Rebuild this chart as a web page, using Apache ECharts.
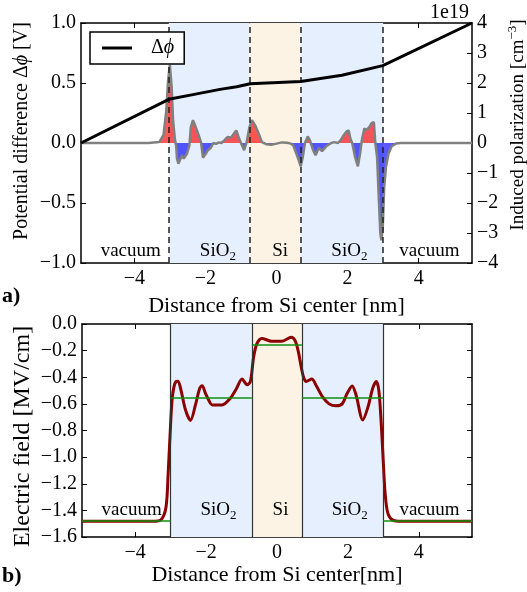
<!DOCTYPE html>
<html><head><meta charset="utf-8">
<script src="https://cdn.jsdelivr.net/npm/echarts@6/dist/echarts.min.js"></script>
<style>html,body{margin:0;padding:0;background:#fff}#c{width:527px;height:592px}</style>
</head><body><div id="c"></div>
<script>
// ---------------- data ----------------
const xTicks = [-4, -2, 0, 2, 4];

const topBounds = [-3.03, -0.76, 0.67, 3.0];
const botBounds = [-3.0, -0.71, 0.7, 3.0];
const regionNames = ['vacuum', 'SiO2', 'Si', 'SiO2', 'vacuum'];
const regionLabelX = [-4.1, -1.65, 0.1, 2.05, 4.3];
const regionLabelYTop = -0.9;
const regionLabelYBot = -1.40;

// potential difference (V)
const phiX = [-5.5, -3.03, -2.35, -1.59, -1.12, -0.74, 0.68, 1.84, 2.99, 5.5];
const phiV = [0, 0.364, 0.403, 0.447, 0.469, 0.494, 0.512, 0.564, 0.645, 1.0];

// induced polarization (1e19 cm^-3)
const polX = [-5.5, -3.6, -3.3, -3.18, -3.10, -3.05, -3.00, -2.95, -2.91, -2.86, -2.82, -2.80, -2.76, -2.71, -2.66, -2.61, -2.57, -2.52, -2.45, -2.41, -2.35, -2.29, -2.19, -2.12, -2.07, -1.99, -1.93, -1.85, -1.78, -1.70, -1.62, -1.55, -1.47, -1.38, -1.28, -1.19, -1.13, -1.05, -0.97, -0.91, -0.84, -0.76, -0.69, -0.60, -0.50, -0.41, -0.29, -0.15, 0.0, 0.15, 0.30, 0.40, 0.47, 0.56, 0.64, 0.68, 0.74, 0.80, 0.88, 0.94, 1.03, 1.10, 1.19, 1.28, 1.40, 1.54, 1.63, 1.73, 1.80, 1.89, 1.96, 2.03, 2.08, 2.13, 2.21, 2.29, 2.35, 2.40, 2.47, 2.54, 2.61, 2.68, 2.74, 2.78, 2.83, 2.88, 2.92, 2.95, 2.99, 3.03, 3.08, 3.15, 3.24, 3.36, 3.5, 5.5];
const polV = [0, 0, 0.03, 0.26, 1.09, 2.09, 2.6, 1.87, 0.76, 0.14, -0.13, -0.52, -0.69, -0.55, -0.41, -0.52, -0.58, -0.36, -0.08, 0.53, 0.76, 0.59, 0.26, 0.0, -0.49, -0.36, -0.24, -0.16, 0.0, -0.03, 0.02, 0.0, 0.09, 0.2, 0.18, 0.33, 0.42, 0.14, -0.08, -0.24, 0.03, 0.53, 0.76, 0.59, 0.31, 0.03, -0.04, -0.06, -0.02, 0.02, 0.01, -0.02, -0.08, -0.36, -0.63, -0.78, -0.47, 0.0, 0.22, 0.09, -0.24, -0.41, -0.16, -0.27, -0.11, 0.0, 0.03, 0.0, 0.09, 0.26, 0.37, 0.42, 0.14, 0.0, -0.47, -0.78, -0.36, 0.09, 0.48, 0.44, 0.53, 0.67, 0.69, 0.0, -0.47, -1.9, -3.0, -3.24, -2.8, -1.47, -0.8, -0.36, -0.11, -0.02, 0, 0];

// electric field (MV/cm)
const fieldX = [-5.5, -3.5, -3.27, -3.13, -3.07, -3.01, -2.95, -2.85, -2.79, -2.71, -2.58, -2.44, -2.30, -2.18, -2.11, -2.02, -1.91, -1.83, -1.55, -1.31, -1.15, -0.985, -0.845, -0.75, -0.66, -0.57, -0.43, -0.15, 0.13, 0.40, 0.52, 0.61, 0.68, 0.75, 0.82, 0.98, 1.12, 1.28, 1.47, 1.66, 1.84, 1.98, 2.12, 2.23, 2.42, 2.57, 2.70, 2.80, 2.87, 2.94, 3.00, 3.05, 3.13, 3.28, 3.5, 5.5];
const fieldV = [-1.482, -1.482, -1.47, -1.374, -1.123, -0.80, -0.545, -0.432, -0.43, -0.495, -0.646, -0.724, -0.608, -0.482, -0.463, -0.52, -0.581, -0.608, -0.608, -0.556, -0.488, -0.413, -0.456, -0.432, -0.25, -0.15, -0.108, -0.13, -0.13, -0.10, -0.13, -0.219, -0.319, -0.40, -0.432, -0.414, -0.47, -0.545, -0.60, -0.615, -0.60, -0.52, -0.465, -0.533, -0.721, -0.62, -0.482, -0.432, -0.495, -0.746, -1.047, -1.273, -1.424, -1.475, -1.482, -1.482];

// region-averaged field (MV/cm)
const avgStart = [-5.5, -3.0, -0.71, 0.7, 3.0];
const avgEnd = [-3.0, -0.71, 0.7, 3.0, 5.5];
const avgV = [-1.475, -0.555, -0.153, -0.555, -1.475];

// ---------------- chart ----------------
const FONT = 'Liberation Serif';
const SIO2_COLOR = '#e5effd';
const SI_COLOR = '#fdf3e5';
const RED_FILL = 'rgba(255,0,0,0.65)';
const BLUE_FILL = 'rgba(0,0,255,0.65)';
const zip = (a, b) => a.map((v, i) => [v, b[i]]);
const fmt = (v, d) => { const s = Math.abs(v).toFixed(d); return (v < -1e-9 ? '\u2212' : '') + s; };

function regionAreas(b) {
  return [
    [{ xAxis: b[0], itemStyle: { color: SIO2_COLOR } }, { xAxis: b[1] }],
    [{ xAxis: b[1], itemStyle: { color: SI_COLOR } }, { xAxis: b[2] }],
    [{ xAxis: b[2], itemStyle: { color: SIO2_COLOR } }, { xAxis: b[3] }]
  ];
}
const tickLabelStyle = { fontFamily: FONT, fontSize: 20, color: '#000' };
const axisLine = { show: true, onZero: false, lineStyle: { color: '#000', width: 1.5 } };

function xAxisCfg(gridIndex, position, labels, name, nameGap) {
  return {
    type: 'value', gridIndex, position, min: -5.5, max: 5.5,
    axisLine,
    axisTick: { show: true, inside: true, length: 5, customValues: xTicks, lineStyle: { color: '#000', width: 1 } },
    axisLabel: Object.assign({ show: labels, customValues: xTicks, margin: 6, formatter: v => fmt(v, 0) }, tickLabelStyle),
    splitLine: { show: false },
    name: name || '', nameLocation: 'middle', nameGap: nameGap || 0, nameMoveOverlap: false,
    nameTextStyle: { fontFamily: FONT, fontSize: 22, color: '#000' }
  };
}
function yAxisCfg(gridIndex, position, min, max, interval, labels, dec, name, nameGap, nameStyle) {
  return {
    type: 'value', gridIndex, position, min, max, interval,
    axisLine,
    axisTick: { show: true, inside: true, length: 5, lineStyle: { color: '#000', width: 1 } },
    axisLabel: Object.assign({ show: labels, margin: 5, formatter: v => fmt(v, dec) }, tickLabelStyle),
    splitLine: { show: false },
    name: name || '', nameLocation: 'middle', nameGap: nameGap || 0, nameRotate: 90, nameMoveOverlap: false,
    nameTextStyle: nameStyle || { fontFamily: FONT, fontSize: 20, color: '#000' }
  };
}

const labelRich = {
  t: { fontFamily: FONT, fontSize: 19, color: '#000', lineHeight: 24, opacity: 1 },
  s: { fontFamily: FONT, fontSize: 13, color: '#000', lineHeight: 12, verticalAlign: 'bottom', opacity: 1 }
};
const labelFmt = p => p.name === 'SiO2' ? '{t|SiO}{s|2}' : '{t|' + p.name + '}';
function labelSeries(xi, yi, yVal) {
  return {
    type: 'scatter', xAxisIndex: xi, yAxisIndex: yi, symbolSize: 0, silent: true, z: 6,
    itemStyle: { opacity: 1 },
    data: regionLabelX.map((x, i) => ({ value: [x, yVal], name: regionNames[i] })),
    label: { show: true, position: 'inside', color: '#000', opacity: 1, formatter: labelFmt, rich: labelRich }
  };
}

const option = {
  animation: false,
  textStyle: { fontFamily: FONT },
  grid: [
    { left: 81, right: 55, top: 23, height: 240, containLabel: false, outerBoundsMode: 'none' },
    { left: 82, right: 55, top: 324, height: 213, containLabel: false, outerBoundsMode: 'none' }
  ],
  xAxis: [
    xAxisCfg(0, 'bottom', true, 'Distance from Si center [nm]', 32),
    xAxisCfg(0, 'top', false),
    xAxisCfg(1, 'bottom', true, 'Distance from Si center[nm]', 27),
    xAxisCfg(1, 'top', false)
  ],
  yAxis: [
    yAxisCfg(0, 'left', -1, 1, 0.5, true, 1, 'Potential difference \u0394{i|\u03d5} [V]', 49,
      { fontFamily: FONT, fontSize: 20, color: '#000', padding: [0, 0, 0, 24],
        rich: { i: { fontFamily: FONT, fontSize: 20, fontStyle: 'italic', color: '#000' } } }),
    yAxisCfg(0, 'right', -4, 4, 1, true, 0, 'Induced polarization [cm{sup|\u22123}]', 34,
      { fontFamily: FONT, fontSize: 19, color: '#000', lineHeight: 24, padding: [0, 0, 0, 36],
        rich: { sup: { fontFamily: FONT, fontSize: 13, lineHeight: 12, verticalAlign: 'top', color: '#000' } } }),
    yAxisCfg(1, 'left', -1.6, 0, 0.2, true, 1, 'Electric field [MV/cm]', 47,
      { fontFamily: FONT, fontSize: 24, color: '#000', padding: [0, 12, 0, 0] }),
    yAxisCfg(1, 'right', -1.6, 0, 0.2, false, 1)
  ],
  legend: {
    data: [{ name: '\u0394\u03d5', icon: 'path://M0,0 L30,0 L30,3 L0,3 Z' }], left: 90, top: 32, z: 20,
    backgroundColor: '#fff', borderColor: '#000', borderWidth: 1.5, borderRadius: 0,
    padding: [6, 10, 6, 12], itemWidth: 30, itemHeight: 3,
    formatter: () => '{n|\u0394}{i|\u03d5}',
    textStyle: { rich: {
      n: { fontFamily: FONT, fontSize: 20, color: '#000', padding: [0, 0, 0, 14] },
      i: { fontFamily: FONT, fontSize: 20, fontStyle: 'italic', color: '#000' }
    } }
  },
  graphic: [
    { type: 'text', right: 527 - 469, top: 3, style: { text: '1e19', font: '20px "Liberation Serif"', fill: '#000' } },
    { type: 'text', left: 2, top: 285, style: { text: 'a)', font: 'bold 22px "Liberation Serif"', fill: '#000' } },
    { type: 'text', left: 2, top: 565, style: { text: 'b)', font: 'bold 22px "Liberation Serif"', fill: '#000' } }
  ],
  series: [
    { // top background regions
      type: 'line', xAxisIndex: 0, yAxisIndex: 0, data: [], z: 0, silent: true,
      markArea: { silent: true, data: regionAreas(topBounds) }
    },
    { // polarization fill (colour set after layout: red above 0, blue below)
      id: 'polFill', type: 'line', xAxisIndex: 0, yAxisIndex: 1, data: zip(polX, polV), symbol: 'none', z: 2,
      lineStyle: { width: 0 }, areaStyle: { color: RED_FILL, opacity: 1 }
    },
    { // polarization line
      type: 'line', xAxisIndex: 0, yAxisIndex: 1, data: zip(polX, polV), symbol: 'none', z: 3,
      lineStyle: { color: '#808080', width: 2.5 }, itemStyle: { color: '#808080' }
    },
    { // dashed boundaries
      type: 'line', xAxisIndex: 0, yAxisIndex: 0, data: [], z: 4, silent: true,
      markLine: { silent: true, symbol: ['none', 'none'], label: { show: false },
        lineStyle: { color: '#222', width: 1.5, type: [6, 4] },
        data: topBounds.map(v => ({ xAxis: v })) }
    },
    { // potential difference
      name: '\u0394\u03d5', type: 'line', xAxisIndex: 0, yAxisIndex: 0, data: zip(phiX, phiV), symbol: 'none', z: 5,
      lineStyle: { color: '#000', width: 3 }, itemStyle: { color: '#000' }
    },
    labelSeries(0, 0, regionLabelYTop),
    { // bottom background + boundaries
      type: 'line', xAxisIndex: 2, yAxisIndex: 2, data: [], z: 0, silent: true,
      markArea: { silent: true, data: regionAreas(botBounds) },
      markLine: { silent: true, symbol: ['none', 'none'], label: { show: false },
        lineStyle: { color: '#333', width: 1.2, type: 'solid' },
        data: botBounds.map(v => ({ xAxis: v })) }
    },
    { // electric field
      type: 'line', xAxisIndex: 2, yAxisIndex: 2, data: zip(fieldX, fieldV), symbol: 'none', z: 3, smooth: 0.3,
      lineStyle: { color: '#8b0000', width: 3 }, itemStyle: { color: '#8b0000' }
    },
    { // averaged fields
      type: 'line', xAxisIndex: 2, yAxisIndex: 2, data: [], z: 4, silent: true,
      markLine: { silent: true, symbol: ['none', 'none'], label: { show: false },
        lineStyle: { color: '#119011', width: 1.5, type: 'solid' },
        data: avgV.map((v, i) => [{ coord: [avgStart[i], v] }, { coord: [avgEnd[i], v] }]) }
    },
    labelSeries(2, 2, regionLabelYBot)
  ]
};
const chart = echarts.init(document.getElementById('c'));
chart.setOption(option);
// split polarization fill colour at the zero line of the right axis
const y0 = chart.convertToPixel({ yAxisIndex: 1 }, 0);
const f = y0 / 592;
chart.setOption({ series: [{ id: 'polFill', areaStyle: { color: {
  type: 'linear', x: 0, y: 0, x2: 0, y2: 592, global: true,
  colorStops: [{ offset: 0, color: RED_FILL }, { offset: f, color: RED_FILL }, { offset: f, color: BLUE_FILL }, { offset: 1, color: BLUE_FILL }]
} } }] });
</script>
</body></html>
